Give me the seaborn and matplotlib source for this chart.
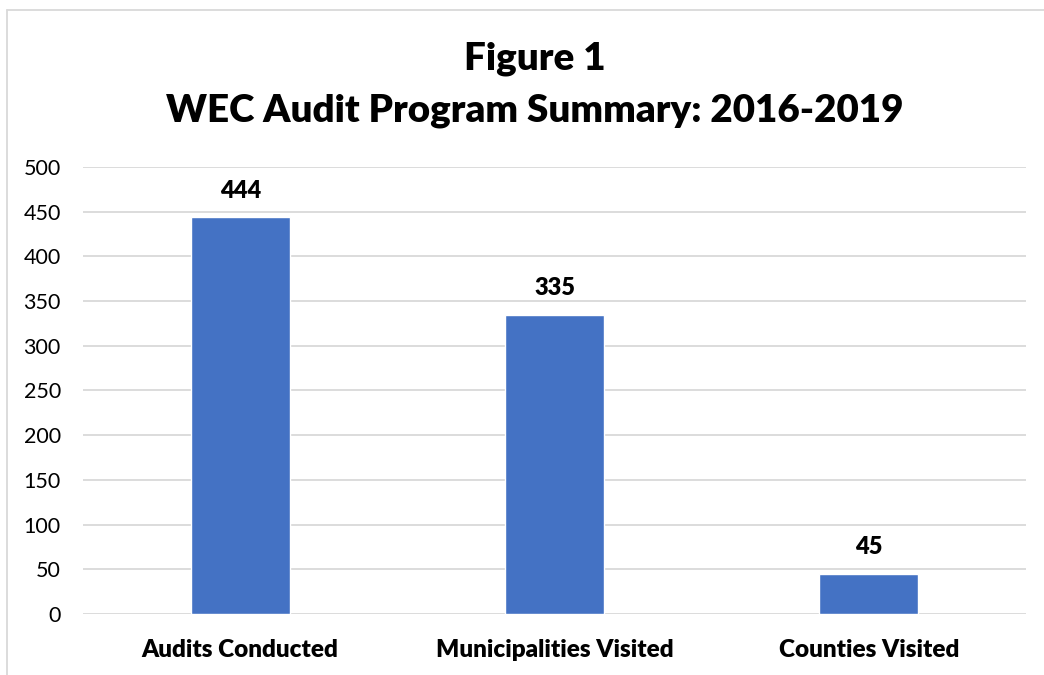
import matplotlib

matplotlib.use("Agg")
import matplotlib.pyplot as plt
import seaborn as sns
import pandas as pd
from matplotlib.lines import Line2D

categories = ["Audits Conducted", "Municipalities Visited", "Counties Visited"]
values = [444, 335, 45]
y_ticks = [0, 50, 100, 150, 200, 250, 300, 350, 400, 450, 500]
title_lines = ["Figure 1", "WEC Audit Program Summary: 2016-2019"]

sns.set_style("white")
plt.rcParams["font.family"] = ["Lato", "DejaVu Sans"]
plt.rcParams["text.color"] = "black"
plt.rcParams["xtick.color"] = "black"
plt.rcParams["ytick.color"] = "black"

df = pd.DataFrame({"category": categories, "value": values})

fig = plt.figure(figsize=(10.44, 6.75), dpi=100, facecolor="white")
ax = fig.add_axes([0.0795, 0.0904, 0.9033, 0.6622])

sns.barplot(data=df, x="category", y="value", color="#4472C4", width=0.315,
            saturation=1, ax=ax, zorder=3)

ax.set_ylim(0, 500)
ax.set_xlim(-0.5, 2.5)
ax.set_yticks(y_ticks)
ax.yaxis.grid(True, color="#D9D9D9", lw=1.3, zorder=0)
ax.set_axisbelow(True)
for s in ax.spines.values():
    s.set_visible(False)
ax.tick_params(axis="both", length=0)
ax.tick_params(axis="y", labelsize=15.5, pad=16, labelcolor="black")
ax.tick_params(axis="x", labelsize=17.5, pad=18, labelcolor="black")
for lbl in ax.get_xticklabels():
    lbl.set_fontweight("heavy")
ax.set_xlabel("")
ax.set_ylabel("")

for i, v in enumerate(values):
    ax.annotate(str(v), (i, v), xytext=(0, 11), textcoords="offset points",
                ha="center", va="bottom", fontsize=17, fontweight="heavy",
                color="black")

fig.text(0.512, 0.913, title_lines[0], ha="center", va="center",
         fontsize=27.7, fontweight="heavy", color="black")
fig.text(0.512, 0.836, title_lines[1], ha="center", va="center",
         fontsize=27.7, fontweight="heavy", color="black")

# chart frame (left and top edges visible)
fig.add_artist(Line2D([7 / 1044, 7 / 1044], [0, 1 - 10 / 675],
                      transform=fig.transFigure, color="#D9D9D9", lw=1.3))
fig.add_artist(Line2D([7 / 1044, 1], [1 - 10 / 675, 1 - 10 / 675],
                      transform=fig.transFigure, color="#D9D9D9", lw=1.3))

plt.savefig("out.png", dpi=100, facecolor="white")
